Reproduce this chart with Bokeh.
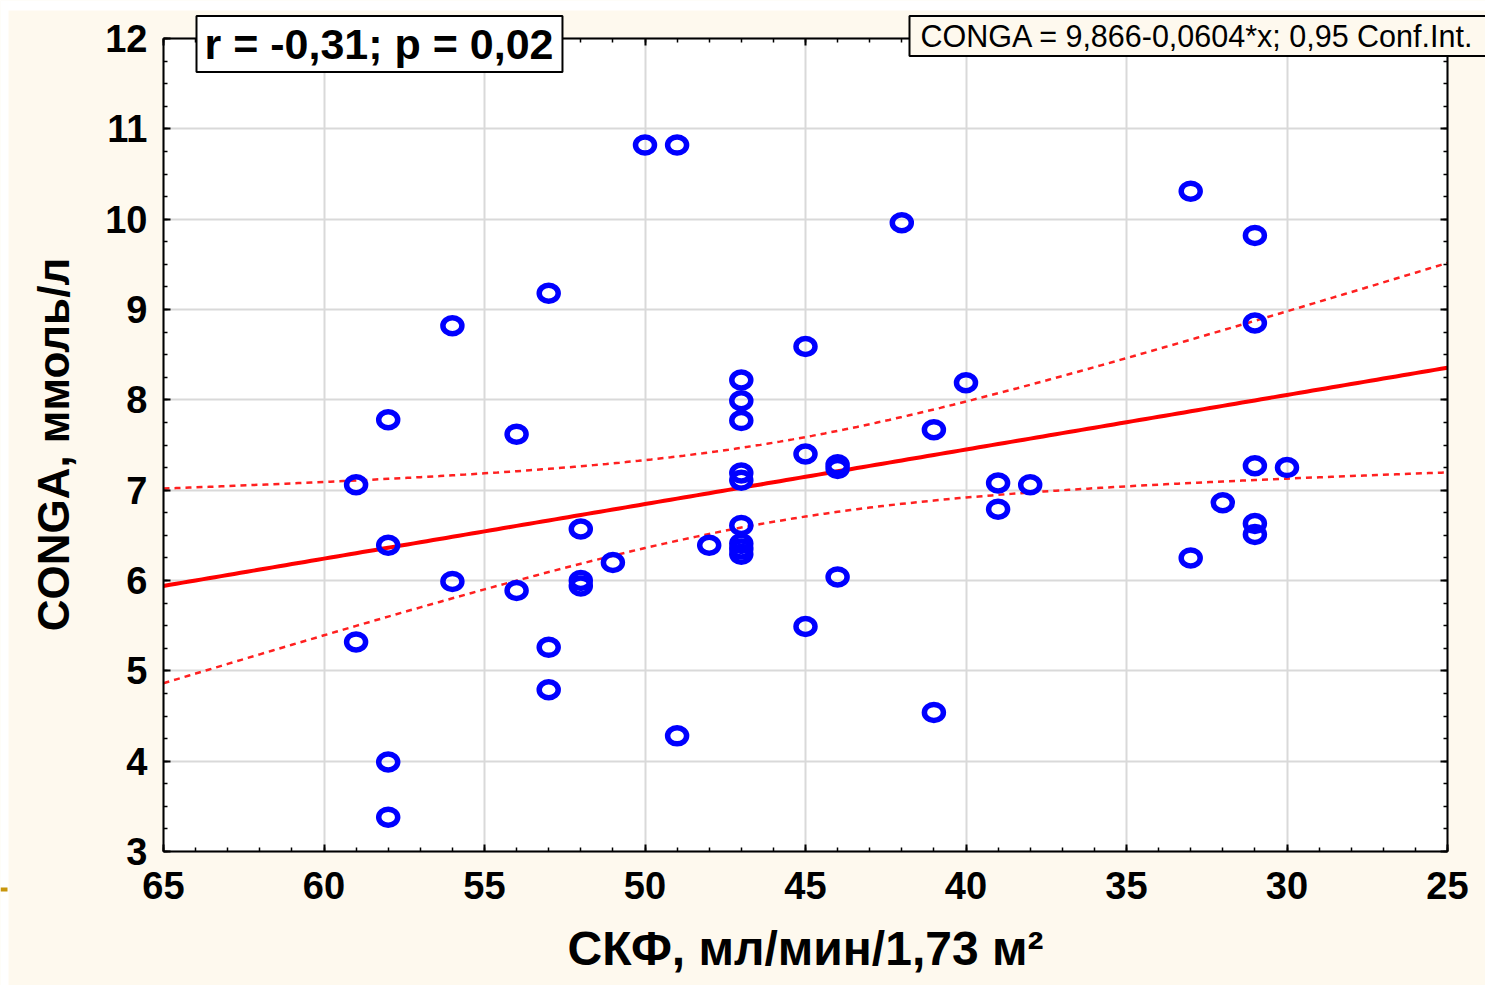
import numpy as np
from bokeh.plotting import figure
from bokeh.models import LinearAxis, Range1d, SingleIntervalTicker, Label, Grid
from bokeh.embed import file_html
from bokeh.resources import INLINE

# Glomerular filtration rate (ml/min/1.73 m2) and CONGA (mmol/l) per patient
gfr = [50, 49, 33, 42, 31, 53, 56, 31, 45, 47, 40, 47, 58, 47, 54, 41, 45,
       44, 44, 47, 47, 59, 39, 38, 31, 30, 39, 32, 52, 47, 31, 31, 58, 48,
       47, 47, 47, 51, 33, 56, 52, 52, 44, 54, 45, 59, 53, 53, 41, 49, 58, 58]
conga = [10.82, 10.82, 10.31, 9.96, 9.82, 9.18, 8.82, 8.85, 8.59, 8.22, 8.19,
         7.99, 7.78, 7.77, 7.62, 7.67, 7.40, 7.28, 7.24, 7.19, 7.11, 7.06, 7.08,
         7.06, 7.27, 7.25, 6.79, 6.86, 6.57, 6.61, 6.63, 6.51, 6.39, 6.39, 6.41,
         6.35, 6.29, 6.20, 6.25, 5.99, 6.00, 5.94, 6.04, 5.89, 5.49, 5.32, 5.26,
         4.79, 4.54, 4.28, 3.99, 3.38]
x_ticks = [65, 60, 55, 50, 45, 40, 35, 30, 25]
y_ticks = [3, 4, 5, 6, 7, 8, 9, 10, 11, 12]

# Regression line as reported
INTERCEPT = 9.866
SLOPE = -0.0604
T975 = 2.009  # Student t quantile (0.975) for ~50 degrees of freedom

stats_text = "r = -0,31; p = 0,02"
legend_text = "CONGA = 9,866-0,0604*x; 0,95 Conf.Int."
x_title = "СКФ, мл/мин/1,73 м²"
y_title = "CONGA, ммоль/л"

CREAM = "#fef9ee"
GRID = "#d9d9d9"
FONT = "Liberation Sans"

# Canvas geometry in pixels.  The frame covers the whole canvas; the four
# axes are pinned to the edges of the plotting box with fixed_location.
W, H = 1485, 985
BOX_LEFT, BOX_RIGHT, BOX_TOP, BOX_BOTTOM = 163, 1447, 38, 851

x0, x1 = x_ticks[0], x_ticks[-1]
y0, y1 = y_ticks[0], y_ticks[-1]
px_x = (BOX_RIGHT - BOX_LEFT) / abs(x0 - x1)
px_y = (BOX_BOTTOM - BOX_TOP) / (y1 - y0)
x_start = x0 + BOX_LEFT / px_x
x_end = x1 - (W - BOX_RIGHT) / px_x
y_start = y0 - (H - BOX_BOTTOM) / px_y
y_end = y1 + BOX_TOP / px_y


def cx(px):
    return x_start - px / px_x


def cy(py):
    return y_end - py / px_y


# 95% confidence band of the mean response around the reported line
xa = np.array(gfr, dtype=float)
ya = np.array(conga, dtype=float)
n = len(xa)
resid = ya - (INTERCEPT + SLOPE * xa)
s = np.sqrt(np.sum(resid ** 2) / (n - 2))
xm = xa.mean()
sxx = np.sum((xa - xm) ** 2)
xs = np.linspace(x0, x1, 201)
fit = INTERCEPT + SLOPE * xs
hw = T975 * s * np.sqrt(1.0 / n + (xs - xm) ** 2 / sxx)

p = figure(width=W, height=H, output_backend="svg", toolbar_location=None,
           x_range=Range1d(x_start, x_end), y_range=Range1d(y_start, y_end),
           min_border_left=0, min_border_right=0,
           min_border_top=0, min_border_bottom=0)
p.background_fill_color = CREAM
p.border_fill_color = CREAM
p.outline_line_color = None

# white page margin on the top and left, and the small bullet mark
p.quad(left=cx(0), right=cx(W), bottom=cy(10), top=cy(0),
       fill_color="white", line_color=None, level="image")
p.quad(left=cx(0), right=cx(8), bottom=cy(H), top=cy(0),
       fill_color="white", line_color=None, level="image")
p.quad(left=cx(0), right=cx(7), bottom=cy(891), top=cy(887),
       fill_color="#c8960c", line_color=None, level="image")

# white plotting box
p.quad(left=x0, right=x1, bottom=y0, top=y1, fill_color="white",
       line_color=None, level="image")

xticker = SingleIntervalTicker(interval=5, num_minor_ticks=5)
yticker = SingleIntervalTicker(interval=1, num_minor_ticks=4)

top_axis = LinearAxis(ticker=xticker)
right_axis = LinearAxis(ticker=yticker)
p.add_layout(top_axis, "above")
p.add_layout(right_axis, "right")

bottom = p.below[0]
left = p.left[0]
bottom.fixed_location = y0
top_axis.fixed_location = y1
left.fixed_location = x0
right_axis.fixed_location = x1

for ax in p.xaxis:
    ax.ticker = xticker
    ax.bounds = (x1, x0)
for ax in p.yaxis:
    ax.ticker = yticker
    ax.bounds = (y0, y1)

for ax in list(p.xaxis) + list(p.yaxis):
    ax.axis_line_color = "black"
    ax.axis_line_width = 2
    ax.major_tick_in = 7
    ax.major_tick_out = 0
    ax.minor_tick_in = 4
    ax.minor_tick_out = 0
    ax.major_tick_line_color = "black"
    ax.major_tick_line_width = 2
    ax.minor_tick_line_color = "black"
    ax.minor_tick_line_width = 1.5
    ax.major_label_text_font = FONT
    ax.major_label_text_font_style = "bold"
    ax.major_label_text_font_size = "38px"
    ax.major_label_text_color = "black"

for ax in (top_axis, right_axis):
    ax.major_label_text_font_size = "0px"
    ax.major_label_text_color = None
    ax.major_label_standoff = 0

bottom.major_label_standoff = 20
left.major_label_standoff = 16

# grid lines limited to the plotting box
p.xgrid.grid_line_color = GRID
p.xgrid.grid_line_width = 2
p.ygrid.grid_line_color = GRID
p.ygrid.grid_line_width = 2
p.xgrid.bounds = (x1, x0)
p.ygrid.bounds = (y0, y1)
if "cross_bounds" in Grid.properties():
    p.xgrid.cross_bounds = (y0, y1)
    p.ygrid.cross_bounds = (x1, x0)
else:
    p.xgrid.visible = False
    p.ygrid.visible = False
    p.segment(x0=x_ticks, y0=[y0] * len(x_ticks), x1=x_ticks,
              y1=[y1] * len(x_ticks), line_color=GRID, line_width=2,
              level="underlay")
    p.segment(x0=[x0] * len(y_ticks), y0=y_ticks, x1=[x1] * len(y_ticks),
              y1=y_ticks, line_color=GRID, line_width=2, level="underlay")

# confidence band and fitted line
p.line(xs, fit + hw, line_color="#ff2020", line_width=2.5, line_dash="6 5")
p.line(xs, fit - hw, line_color="#ff2020", line_width=2.5, line_dash="6 5")
p.line(xs, fit, line_color="#ff0000", line_width=4)

# observations
p.ellipse(x=gfr, y=conga, width=19, height=16, width_units="screen",
          height_units="screen", fill_color=None, line_color="#0000ff",
          line_width=5.5)

# axis titles (screen positions measured from the canvas lower-left corner)
p.add_layout(Label(x=805, y=H - 948, x_units="screen", y_units="screen",
                   text=x_title, text_font=FONT, text_font_style="bold",
                   text_font_size="48px", text_color="black",
                   text_align="center", text_baseline="middle"))
p.add_layout(Label(x=53, y=H - 444, x_units="screen", y_units="screen",
                   text=y_title, text_font=FONT, text_font_style="bold",
                   text_font_size="44px", text_color="black",
                   text_align="center", text_baseline="middle",
                   angle=np.pi / 2))

# header boxes; padding is (left, right, top, bottom)
p.add_layout(Label(x=196, y=H - 43.5, x_units="screen", y_units="screen",
                   text=stats_text, text_font=FONT, text_font_style="bold",
                   text_font_size="43px", text_color="black",
                   text_align="left", text_baseline="middle",
                   background_fill_color="white", border_line_color="black",
                   border_line_width=2, padding=(8, 9, 4, 4)))

p.add_layout(Label(x=909, y=H - 35.5, x_units="screen", y_units="screen",
                   text=legend_text, text_font=FONT, text_font_size="30.5px",
                   text_color="black", text_align="left",
                   text_baseline="middle", background_fill_color=CREAM,
                   border_line_color="black", border_line_width=2,
                   padding=(11, 16, 3, 3)))

with open("out.html", "w") as f:
    f.write(file_html(p, INLINE, title="CONGA vs GFR"))
